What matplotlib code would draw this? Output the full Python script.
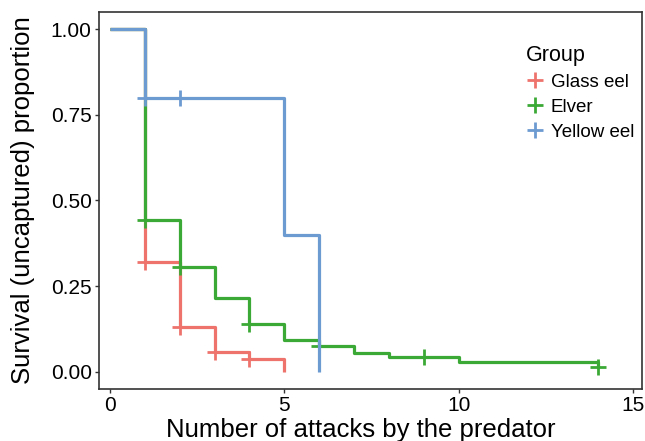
import matplotlib
matplotlib.use('Agg')
import matplotlib.pyplot as plt
from matplotlib.lines import Line2D

plt.rcParams['font.family'] = ['Liberation Sans', 'DejaVu Sans']

# Kaplan-Meier steps
glass_t = [0, 1, 2, 3, 4, 5]
glass_s = [1.0, 0.321, 0.132, 0.058, 0.037, 0.0]
glass_cens_t = [1, 2, 3, 4]
glass_cens_s = [0.321, 0.132, 0.058, 0.037]

elver_t = [0, 1, 2, 3, 4, 5, 6, 7, 8, 10, 14]
elver_s = [1.0, 0.444, 0.305, 0.216, 0.140, 0.093, 0.074, 0.054, 0.042, 0.028, 0.014]
elver_cens_t = [1, 2, 4, 6, 9, 14]
elver_cens_s = [0.444, 0.305, 0.140, 0.074, 0.042, 0.014]

yellow_t = [0, 1, 5, 6]
yellow_s = [1.0, 0.8, 0.4, 0.0]
yellow_cens_t = [1, 2]
yellow_cens_s = [0.8, 0.8]

groups = ['Glass eel', 'Elver', 'Yellow eel']
colors = ['#EE736C', '#3BA935', '#6C9BD2']

fig = plt.figure(figsize=(6.45, 4.41), dpi=100)
ax = fig.add_axes([0.153, 0.118, 0.842, 0.855])

series = [(glass_t, glass_s, glass_cens_t, glass_cens_s),
          (elver_t, elver_s, elver_cens_t, elver_cens_s),
          (yellow_t, yellow_s, yellow_cens_t, yellow_cens_s)]

for (t, s, ct, cs), c in zip(series, colors):
    ax.step(t, s, where='post', color=c, lw=2.3, solid_capstyle='butt')
    ax.plot(ct, cs, ls='none', marker='+', color=c, ms=11, mew=2)

ax.set_xlim(-0.32, 15.24)
ax.set_ylim(-0.05, 1.05)
ax.set_xticks([0, 5, 10, 15])
ax.set_yticks([0, 0.25, 0.5, 0.75, 1.0])
ax.set_yticklabels(['0.00', '0.25', '0.50', '0.75', '1.00'])
ax.tick_params(labelsize=15, length=3, width=1, color='#333333', labelcolor='black', pad=2)
for sp in ax.spines.values():
    sp.set_color('#333333')
    sp.set_linewidth(1.2)

ax.set_xlabel('Number of attacks by the predator', fontsize=18.5, labelpad=2)
ax.set_ylabel('Survival (uncaptured) proportion', fontsize=18.5, labelpad=11)
ax.xaxis.label.set_x(0.483)

handles = [Line2D([], [], ls='none', marker='+', color=c, ms=11, mew=2) for c in colors]
leg = ax.legend(handles, groups, title='Group', loc='upper left',
                bbox_to_anchor=(0.762, 0.948), frameon=False, fontsize=13.5,
                title_fontsize=15.5, handlelength=1.0, handletextpad=0.35,
                labelspacing=0.42, borderpad=0.2)
leg._legend_box.align = 'left'

fig.savefig('out.png', dpi=100)
